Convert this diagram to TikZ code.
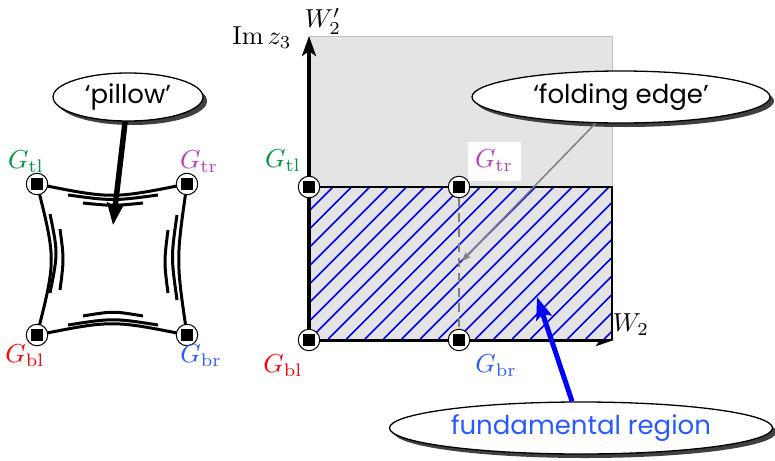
\documentclass[tikz,border=0pt]{standalone}
\usepackage{fontspec}
\newfontfamily\callfont[Ligatures=TeX]{Poppins}
\usetikzlibrary{arrows.meta,shapes.geometric,shadows}
\definecolor{gtl}{RGB}{0,150,60}
\definecolor{gtr}{RGB}{190,60,190}
\definecolor{gbl}{RGB}{255,0,0}
\definecolor{gbr}{RGB}{40,90,255}
\definecolor{fundblue}{RGB}{40,90,255}
\definecolor{regiongray}{RGB}{228,228,228}
\newcommand\glab[1]{\scalebox{2.6}{$#1$}}
\begin{document}
\begin{tikzpicture}[x=1pt,y=-1pt,
  vtx/.style={circle,draw,fill=white,line width=1pt,minimum size=21.5pt,inner sep=0pt,
    path picture={\fill[black] (path picture bounding box.center) +(-6pt,-6pt) rectangle +(6pt,6pt);}},
  glabel/.style={font=\fontsize{10}{12}\selectfont,inner sep=0pt},
  callout/.style={ellipse,draw,fill=white,line width=1.3pt,inner sep=0pt,
    font=\callfont\fontsize{26}{28}\selectfont,
    drop shadow={shadow xshift=4pt,shadow yshift=-4pt,fill=black!75,opacity=1}},
  pedge/.style={line width=3pt},
  pstroke/.style={line width=3pt},
  hatchline/.style={blue,line width=1.6pt},
]
\useasboundingbox (0,0) rectangle (775,460);

% ---------------- left: pillow ----------------
\coordinate (ptl) at (37,184);
\coordinate (ptr) at (187,184);
\coordinate (pbl) at (37,335);
\coordinate (pbr) at (187,335);

\draw[pedge] (ptl) .. controls (112,199) .. (ptr);
\draw[pedge] (ptl) .. controls (56,260) .. (pbl);
\draw[pedge] (ptr) .. controls (176,260) .. (pbr);
\draw[pedge] (pbl) .. controls (112,320) .. (pbr);

\draw[pstroke] (68,195) .. controls (113,201) .. (158,195);
\draw[pstroke] (83,203) .. controls (113,206) .. (143,203);
\draw[pstroke] (50,214) .. controls (58,253) .. (50,293);
\draw[pstroke] (60,229) .. controls (64,259) .. (60,290);
\draw[pstroke] (177,215) .. controls (171,257) .. (177,300);
\draw[pstroke] (168,230) .. controls (164,262) .. (168,293);
\draw[pstroke] (68,325) .. controls (113,318) .. (158,325);
\draw[pstroke] (83,316) .. controls (113,311) .. (143,316);

\node[vtx] (ltl) at (ptl) {};
\node[vtx] (ltr) at (ptr) {};
\node[vtx] (lbl) at (pbl) {};
\node[vtx] (lbr) at (pbr) {};

\node[glabel,text=gtl] (lgtl) at (26,162) {\glab{G_{\mathrm{tl}}}};
\node[glabel,text=gtr] (lgtr) at (199,162) {\glab{G_{\mathrm{tr}}}};
\node[glabel,text=gbl] (lgbl) at (25,356) {\glab{G_{\mathrm{bl}}}};
\node[glabel,text=gbr] (lgbr) at (201,356) {\glab{G_{\mathrm{br}}}};

\node[callout,minimum width=150pt,minimum height=48pt] (pill) at (128,97) {`pillow'};
\coordinate (ptip) at (113,225);
\draw[line width=5.5pt,-{Stealth[length=22pt,width=17pt,inset=4pt]}] (pill) -- (ptip);

% ---------------- right: plane ----------------
\coordinate (O) at (309,340);
\coordinate (ytop) at (309,36);
\coordinate (xend) at (614,340);

\fill[regiongray] (309,37) rectangle (612,340);
\draw[gray!50,line width=1pt] (309,37) -- (612,37) -- (612,187);

\draw[line width=4pt,-{Stealth[length=18pt,width=12pt,inset=4pt]}] (O) -- (xend);

\fill[regiongray] (309,187) rectangle (612,339);
\begin{scope}
  \clip (309,187) rectangle (612,339);
  \foreach \k in {-2,...,24}
    \draw[hatchline] ({333+18.4*\k-152},339) -- ++(152,-152);
\end{scope}
\draw[line width=2.5pt] (309,187) -- (612,187);
\draw[line width=1.5pt] (612,186) -- (612,340);

\draw[line width=4pt,-{Stealth[length=20pt,width=14pt,inset=5pt]}] (O) -- (ytop);

\node[vtx] (rtl) at (309,187) {};
\node[vtx] (rtr) at (459,187) {};
\node[vtx] (rbl) at (309,340) {};
\node[vtx] (rbr) at (459,340) {};
\draw[gray,line width=1.3pt,dash pattern=on 9pt off 6pt] (rtr) -- (rbr);

\node[glabel] (imz) at (262,38) {\glab{\mathrm{Im}\,z_3}};
\node[glabel] (wp) at (323,21) {\glab{W_2'}};
\node[glabel] (w2) at (631,325) {\glab{W_2}};

\node[glabel,text=gtl] (rgtl) at (283,161) {\glab{G_{\mathrm{tl}}}};
\node[glabel,text=gtr,fill=white,minimum width=53pt,minimum height=39pt] (rgtr) at (494,161) {\glab{G_{\mathrm{tr}}}};
\node[glabel,text=gbl] (rgbl) at (283,366) {\glab{G_{\mathrm{bl}}}};
\node[glabel,text=gbr] (rgbr) at (496,366) {\glab{G_{\mathrm{br}}}};

\node[callout,minimum width=298pt,minimum height=52pt] (fold) at (621,97) {`folding edge'};
\coordinate (ftip) at (462,261);
\draw[gray,line width=1.5pt,-{Stealth[length=9pt,width=7pt,inset=2pt]}] (fold) -- (ftip);

\node[callout,minimum width=383pt,minimum height=52pt,text=fundblue] (fund) at (581,428) {fundamental region};
\coordinate (btip) at (537,297);
\draw[blue,line width=5pt,-{Stealth[length=22pt,width=16pt,inset=4pt]}] (fund) -- (btip);
\end{tikzpicture}
\end{document}
